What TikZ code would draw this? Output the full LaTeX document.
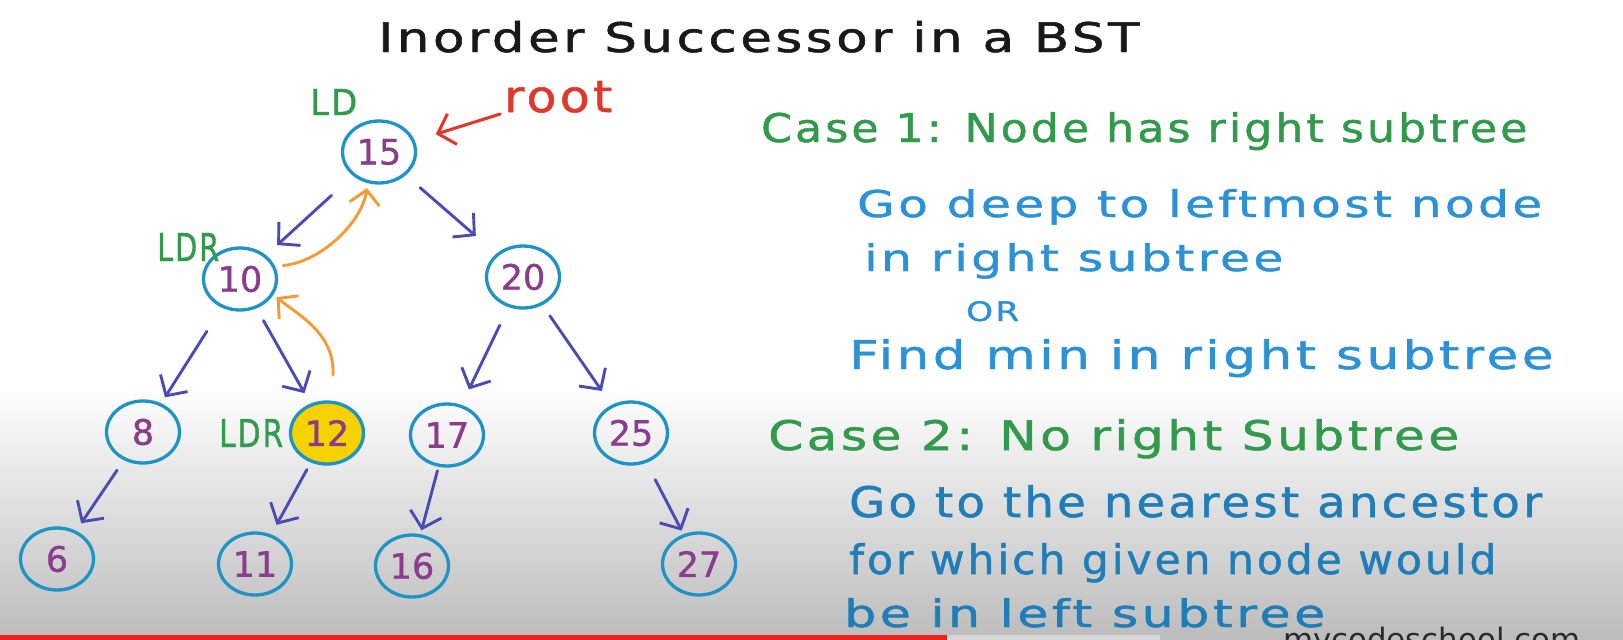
\documentclass[tikz,border=0pt]{standalone}
\usepackage{fontspec}
\usepackage{graphicx}
\setmainfont{DejaVu Sans}
\newfontfamily\hand[LetterSpace=7,FakeBold=1.2]{DejaVu Sans}
\newfontfamily\digf[FakeBold=1]{DejaVu Sans}
\newfontfamily\wmf{DejaVu Sans}
\usetikzlibrary{arrows.meta,shapes.geometric,calc}
\definecolor{circ}{HTML}{1E93C6}
\definecolor{numc}{HTML}{8A3D8C}
\definecolor{arrc}{HTML}{4B4BB5}
\definecolor{orng}{HTML}{F59A35}
\definecolor{redc}{HTML}{E2372B}
\definecolor{grn}{HTML}{329A4C}
\definecolor{blu}{HTML}{2C92D5}
\definecolor{blu2}{HTML}{1F7EB8}
\definecolor{ylw}{HTML}{F6D100}
\definecolor{bggray}{HTML}{BDBDBD}
\definecolor{ytred}{HTML}{E8231C}
\definecolor{barl}{HTML}{D6D6D6}
\definecolor{wmc}{HTML}{2A2A2A}
\newcommand{\hwtxt}[3]{\resizebox{#1pt}{#2pt}{\hand #3}}
\begin{document}
\begin{tikzpicture}[x=1pt,y=-1pt,
  bst/.style={ellipse, draw=circ, line width=3.3pt, minimum width=73pt, minimum height=62pt,
    inner sep=0pt, text=numc, font=\digf\fontsize{35}{35}\selectfont},
  tarr/.style={draw=arrc, line width=2.9pt, line cap=round,
    -{Straight Barb[length=15pt,width=32pt]}},
  oarr/.style={draw=orng, line width=2.9pt, line cap=round,
    -{Straight Barb[length=14pt,width=30pt]}},
  rarr/.style={draw=redc, line width=3.1pt, line cap=round,
    -{Straight Barb[length=15pt,width=32pt]}},
  txt/.style={anchor=base west, inner sep=0pt}]
\useasboundingbox (0,0) rectangle (1623,640);
\clip (0,0) rectangle (1623,640);
\fill[white] (0,0) rectangle (1623,640);
\shade[top color=white, bottom color=bggray] (0,385) rectangle (1623,636);
\fill[bggray] (0,636) rectangle (1623,640);
\fill[ytred] (0,635) rectangle (947,640);
\fill[barl] (947,635) rectangle (1160,640);

% title
\node[txt, text=black!90] (title) at (378,52) {\hwtxt{761}{31}{Inorder Successor in a BST}};

% tree nodes
\node[bst] (n15) at (379,152) {15};
\node[bst] (n10) at (240,279) {10};
\node[bst] (n20) at (523,277) {20};
\node[bst] (n8) at (143,432) {8};
\node[bst, fill=ylw] (n12) at (327,433) {12};
\node[bst] (n17) at (447,435) {17};
\node[bst] (n25) at (631,433) {25};
\node[bst] (n6) at (57,559) {6};
\node[bst] (n11) at (255,564) {11};
\node[bst] (n16) at (412,566) {16};
\node[bst] (n27) at (699,564) {27};

% labels
\node[txt, text=grn] (ld) at (310,115) {\hwtxt{47}{26}{LD}};
\node[txt, text=grn] (ldr1) at (157,261) {\hwtxt{62}{28}{LDR}};
\node[txt, text=grn] (ldr2) at (219,447) {\hwtxt{64}{28}{LDR}};
\node[txt, text=redc] (rootlbl) at (504,112) {\hwtxt{108}{31}{root}};

% tree edges
\draw[tarr, shorten <=29pt, shorten >=15pt] (n15) -- (n10);
\draw[tarr, shorten <=19pt, shorten >=27pt] (n15) -- (n20);
\draw[tarr, shorten <=28pt, shorten >=7pt] (n10) -- (n8);
\draw[tarr, shorten <=14pt, shorten >=12pt] (n10) -- (n12);
\draw[tarr, shorten <=20pt, shorten >=17pt] (n20) -- (n17);
\draw[tarr, shorten <=13pt, shorten >=17pt] (n20) -- (n25);
\draw[tarr, shorten <=12pt, shorten >=9pt] (n8) -- (n6);
\draw[tarr, shorten <=8pt, shorten >=11pt] (n12) -- (n11);
\draw[tarr, shorten <=4pt, shorten >=4pt] (n17) -- (n16);
\draw[tarr, shorten <=19pt, shorten >=4pt] (n25) -- (n27);

% orange path arrows
\draw[oarr, shorten <=8pt, shorten >=5pt] (n10.20) .. controls +(45,-4) and +(-6,40) .. (n15.250);
\coordinate (ob) at (333,375);
\draw[oarr, shorten >=4pt] (ob) .. controls +(2,-42) and +(24,20) .. (n10.-25);

% root pointer
\draw[rarr, shorten <=4pt, shorten >=22pt] (rootlbl.south west) -- (n15);

% right side text
\node[txt, text=grn] (c1) at (761,142) {\hwtxt{766}{30}{Case 1: Node has right subtree}};
\node[txt, text=blu] (c1a) at (857,217) {\hwtxt{685}{28}{Go deep to leftmost node}};
\node[txt, text=blu] (c1b) at (864,271) {\hwtxt{419}{28}{in right subtree}};
\node[txt, text=blu] (c1or) at (966,321) {\hwtxt{53}{20}{OR}};
\node[txt, text=blu] (c1c) at (849,369) {\hwtxt{704}{30}{Find min in right subtree}};
\node[txt, text=grn] (c2) at (768,450) {\hwtxt{691}{31}{Case 2: No right Subtree}};
\node[txt, text=blu2] (c2a) at (849,517) {\hwtxt{693}{32}{Go to the nearest ancestor}};
\node[txt, text=blu2] (c2b) at (849,574) {\hwtxt{647}{31}{for which given node would}};
\node[txt, text=blu2] (c2c) at (844,627) {\hwtxt{481}{29}{be in left subtree}};

% watermark (cut off at bottom, as in the reference)
\node[txt, text=wmc] (wm) at (1283,650) {\resizebox{297pt}{!}{\wmf mycodeschool.com}};
\end{tikzpicture}
\end{document}
